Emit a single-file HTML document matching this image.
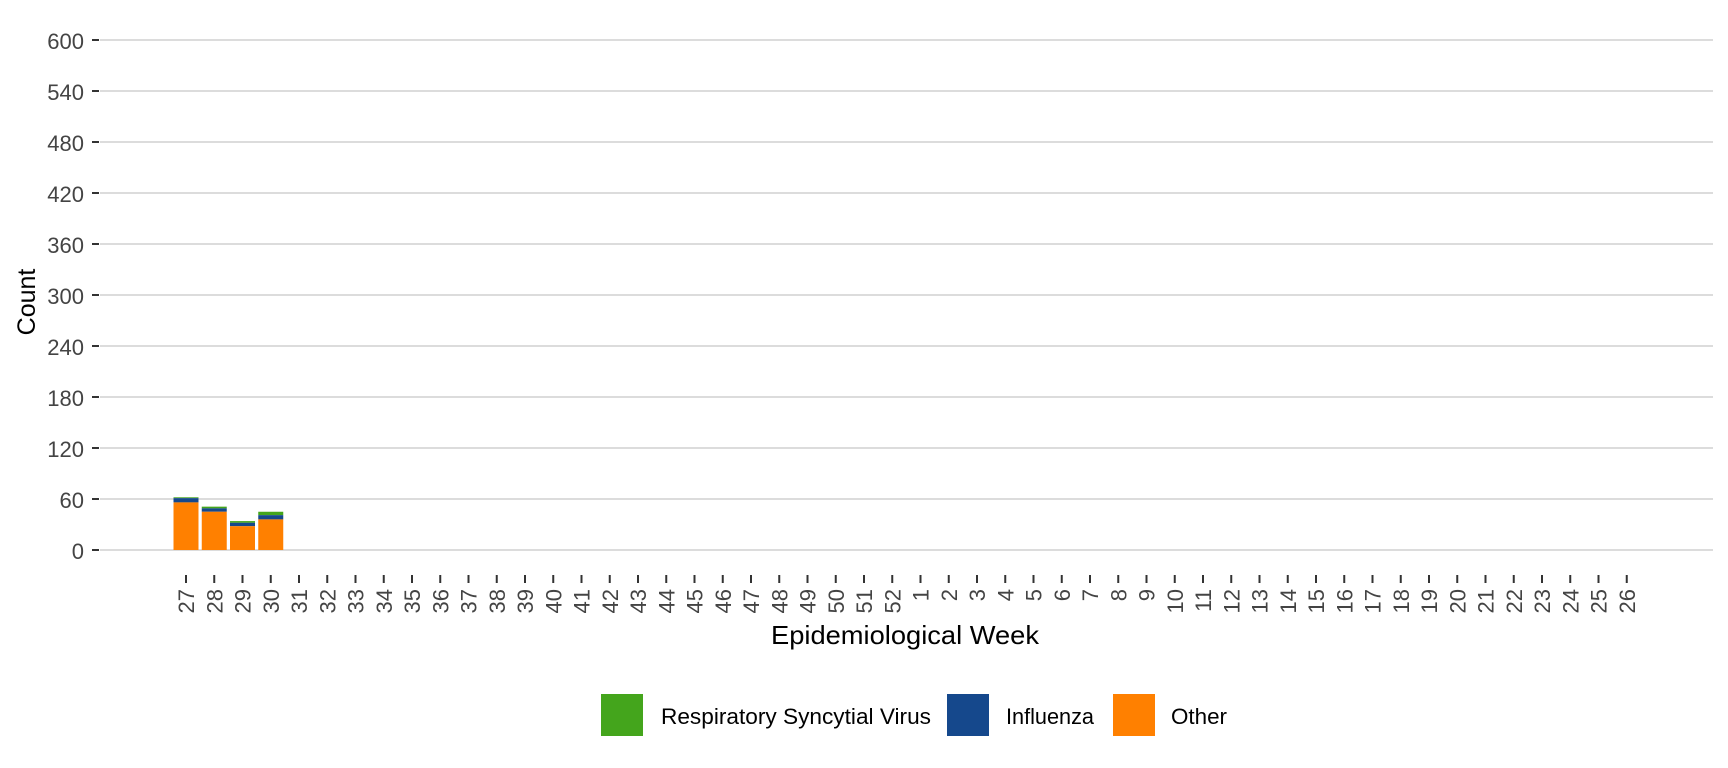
<!DOCTYPE html>
<html><head><meta charset="utf-8"><style>html,body{margin:0;padding:0;background:#fff}svg{display:block}</style></head>
<body>
<svg id="s" width="1728" height="768" xmlns="http://www.w3.org/2000/svg" font-family="Liberation Sans, Arial, sans-serif">
<g id="grid"></g>
<g id="bars"></g>
<g id="xt"></g>
<text x="905" y="644" font-size="26" text-anchor="middle" textLength="268" lengthAdjust="spacingAndGlyphs" fill="#000">Epidemiological Week</text>
<text transform="translate(35,302) rotate(-90)" font-size="25" text-anchor="middle" fill="#000">Count</text>
<rect x="601" y="694" width="42" height="42" fill="#44a51c"/>
<text x="661" y="724" font-size="22" textLength="270" lengthAdjust="spacingAndGlyphs">Respiratory Syncytial Virus</text>
<rect x="947" y="694" width="42" height="42" fill="#15488c"/>
<text x="1006" y="724" font-size="22" textLength="88" lengthAdjust="spacingAndGlyphs">Influenza</text>
<rect x="1113" y="694" width="42" height="42" fill="#ff8000"/>
<text x="1171" y="724" font-size="22" textLength="56" lengthAdjust="spacingAndGlyphs">Other</text>
</svg>
<script>
var NS="http://www.w3.org/2000/svg";
function el(p,t,a,txt){var e=document.createElementNS(NS,t);for(var k in a)e.setAttribute(k,a[k]);if(txt!==undefined)e.textContent=txt;document.getElementById(p).appendChild(e);}
function Y(v){return 550-v*0.85;}
for(var v=0;v<=600;v+=60){var y=Y(v);
el("grid","line",{x1:100,x2:1713,y1:y,y2:y,stroke:"#d0d0d0","stroke-width":1.6});
el("grid","line",{x1:92,x2:99,y1:y,y2:y,stroke:"#333","stroke-width":2});
el("grid","text",{x:84,y:y+9,"font-size":22,"text-anchor":"end",fill:"#444"},String(v));}
var weeks=[];for(var w=27;w<=52;w++)weeks.push(w);for(var w=1;w<=26;w++)weeks.push(w);
weeks.forEach(function(w,i){var x=186+i*28.25;
el("xt","line",{x1:x,x2:x,y1:575,y2:583,stroke:"#333","stroke-width":2});
el("xt","text",{transform:"translate("+(x+8)+",589) rotate(-90)","font-size":22,"text-anchor":"end",fill:"#444"},String(w));});
var data=[[56,61,62],[45,49,51],[28,32,34],[36,41,45]];
data.forEach(function(d,i){var x=186+i*28.25-12.5;
el("bars","rect",{x:x,y:Y(d[2]),width:25,height:Y(d[1])-Y(d[2]),fill:"#44a51c"});
el("bars","rect",{x:x,y:Y(d[1]),width:25,height:Y(d[0])-Y(d[1]),fill:"#15488c"});
el("bars","rect",{x:x,y:Y(d[0]),width:25,height:550-Y(d[0]),fill:"#ff8000"});});
</script>
</body></html>
